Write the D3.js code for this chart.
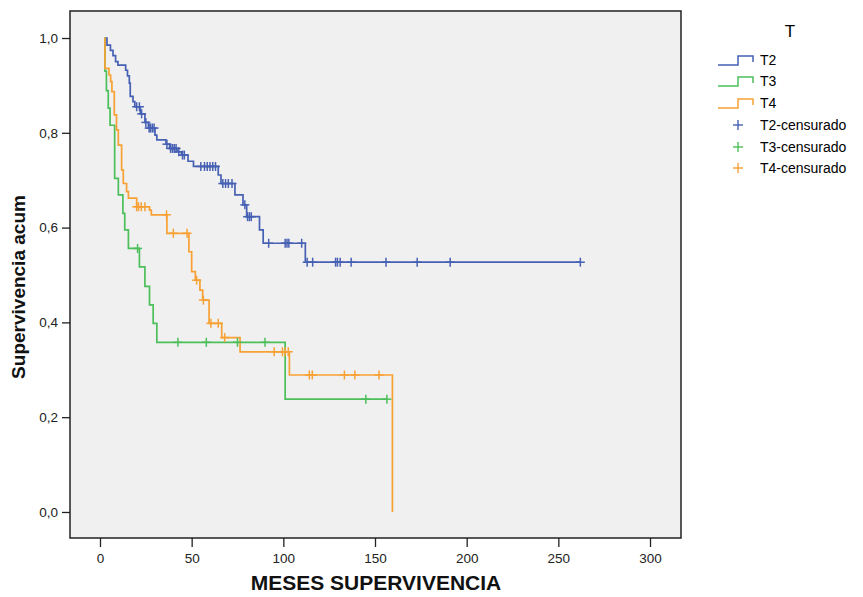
<!DOCTYPE html>
<html>
<head>
<meta charset="utf-8">
<script src="https://cdn.jsdelivr.net/npm/d3@7"></script>
<style>
  body { margin: 0; background: #fff; }
  #chart { width: 863px; height: 597px; }
  text { font-family: "Liberation Sans", Arial, sans-serif; }
  .axis text { font-size: 13.5px; fill: #222; }
  .axis line { stroke: #222; }
  .axisLabel { font-weight: bold; fill: #111; }
</style>
</head>
<body>
<div id="chart"></div>
<script>
// ---- data ----
const groups = ["T2", "T3", "T4"];
const colors = ["#4660b4", "#4cbf5a", "#f7a134"];
const startTime = 2.5;

// T2: event times and the survival value just after each step
const t2Times = [3.8, 5.7, 7.1, 8.5, 9.8, 14, 15, 16, 16.5, 18, 19, 22, 24.5, 26.4, 30, 31, 36, 38, 42, 44.5, 48, 51, 64.5, 66, 73.6, 78, 80, 87, 89, 112];
const t2Surv  = [0.985, 0.974, 0.963, 0.95, 0.943, 0.932, 0.92, 0.905, 0.877, 0.866, 0.855, 0.84, 0.822, 0.81, 0.795, 0.785, 0.776, 0.767, 0.76, 0.753, 0.74, 0.729, 0.711, 0.693, 0.669, 0.648, 0.623, 0.595, 0.567, 0.527];
const t2Censor = [20, 21.5, 22.7, 25, 26.8, 27.5, 28.5, 29.5, 36.5, 38.5, 39.5, 40.5, 41.5, 43, 45, 46, 55, 57, 58.5, 60, 61.5, 63, 67, 68.5, 70, 72, 79, 80.5, 81.5, 82.5, 92, 101, 102, 103, 110, 113, 116, 128.5, 129.5, 131, 137, 156, 173, 191, 262];
const t2End = 262;

// T3
const t3Times = [2.7, 3.5, 4.5, 5.5, 8, 10, 12.5, 13.5, 15.5, 21.5, 24.5, 27, 29, 31, 101];
const t3Surv  = [0.93, 0.889, 0.852, 0.816, 0.704, 0.669, 0.63, 0.595, 0.556, 0.517, 0.476, 0.437, 0.398, 0.358, 0.238];
const t3Censor = [20.5, 42.5, 58, 75, 90, 145, 156.5];
const t3End = 156.5;

// T4
const t4Times = [2.7, 4.9, 5.8, 6.5, 7.8, 9, 10, 11.8, 12.7, 14.5, 15.5, 20, 27, 28, 36.5, 48.5, 50, 52, 54.5, 56, 59.5, 66.4, 76.4, 103.3, 159.5];
const t4Surv  = [0.936, 0.922, 0.908, 0.887, 0.838, 0.806, 0.774, 0.722, 0.693, 0.676, 0.662, 0.644, 0.637, 0.627, 0.588, 0.549, 0.507, 0.489, 0.468, 0.447, 0.398, 0.368, 0.338, 0.289, 0];
const t4Censor = [20, 21, 22.5, 24.5, 36.3, 40, 47.5, 52.7, 56.4, 60.5, 64.5, 68, 95, 99.5, 101, 102.7, 114.2, 115.8, 133.3, 139, 152.2];
const t4End = 159.5;

const xTicks = [0, 50, 100, 150, 200, 250, 300];
const yTicks = [0, 0.2, 0.4, 0.6, 0.8, 1.0];
const legendLabels = ["T2", "T3", "T4", "T2-censurado", "T3-censurado", "T4-censurado"];

const series = [
  {times: t2Times, surv: t2Surv, censor: t2Censor, end: t2End},
  {times: t3Times, surv: t3Surv, censor: t3Censor, end: t3End},
  {times: t4Times, surv: t4Surv, censor: t4Censor, end: t4End}
];

// 1. SVG
const width = 863, height = 597;
const svg = d3.select("#chart").append("svg")
  .attr("width", width)
  .attr("height", height);

// 2. SCALES (plot frame 70..681 x 11..538)
const frame = {left: 70, right: 681, top: 11, bottom: 538};
const xScale = d3.scaleLinear().domain([-16.36, 316.9]).range([frame.left, frame.right]);
const yScale = d3.scaleLinear().domain([-0.0549, 1.057]).range([frame.bottom, frame.top]);

// plot background
svg.append("rect")
  .attr("x", frame.left).attr("y", frame.top)
  .attr("width", frame.right - frame.left).attr("height", frame.bottom - frame.top)
  .attr("fill", "#f0f0f0");

// 3. AXES
const comma = d3.formatLocale({decimal: ",", thousands: ".", grouping: [3], currency: ["", "€"]}).format(".1f");

svg.append("g")
  .attr("class", "axis")
  .attr("transform", `translate(0,${frame.bottom})`)
  .call(d3.axisBottom(xScale).tickValues(xTicks).tickSize(9).tickPadding(6))
  .call(g => g.select(".domain").remove());

svg.append("g")
  .attr("class", "axis")
  .attr("transform", `translate(${frame.left},0)`)
  .call(d3.axisLeft(yScale).tickValues(yTicks).tickFormat(comma).tickSize(8).tickPadding(4))
  .call(g => g.select(".domain").remove());

svg.selectAll(".axis line").attr("stroke-width", 1.3);

// 4. CURVES
function survAt(s, t) {
  let v = 1;
  s.times.forEach((tt, i) => { if (tt <= t) v = s.surv[i]; });
  return v;
}

const line = d3.line()
  .x(d => xScale(d[0]))
  .y(d => yScale(d[1]))
  .curve(d3.curveStepAfter);

series.forEach((s, i) => {
  const pts = [[startTime, 1]];
  s.times.forEach((t, j) => pts.push([t, s.surv[j]]));
  if (s.end > s.times[s.times.length - 1]) pts.push([s.end, s.surv[s.surv.length - 1]]);

  svg.append("path")
    .datum(pts)
    .attr("d", line)
    .attr("fill", "none")
    .attr("stroke", colors[i])
    .attr("stroke-width", 1.7);
});

// censor marks
const arm = 4.5;
series.forEach((s, i) => {
  const g = svg.append("g").attr("stroke", colors[i]).attr("stroke-width", 1.5);
  s.censor.forEach(c => {
    const cx = xScale(c), cy = yScale(survAt(s, c));
    g.append("line").attr("x1", cx - arm).attr("x2", cx + arm).attr("y1", cy).attr("y2", cy);
    g.append("line").attr("x1", cx).attr("x2", cx).attr("y1", cy - arm).attr("y2", cy + arm);
  });
});

// frame on top
svg.append("rect")
  .attr("x", frame.left).attr("y", frame.top)
  .attr("width", frame.right - frame.left).attr("height", frame.bottom - frame.top)
  .attr("fill", "none")
  .attr("stroke", "#222")
  .attr("stroke-width", 1.5);

// 5. LABELS
svg.append("text")
  .attr("class", "axisLabel")
  .attr("x", 376).attr("y", 590)
  .attr("text-anchor", "middle")
  .style("font-size", "21px")
  .text("MESES SUPERVIVENCIA");

svg.append("text")
  .attr("class", "axisLabel")
  .attr("transform", "rotate(-90)")
  .attr("x", -287).attr("y", 25)
  .attr("text-anchor", "middle")
  .style("font-size", "19px")
  .text("Supervivencia acum");

// 6. LEGEND
const legend = svg.append("g");
legend.append("text")
  .attr("x", 790).attr("y", 37)
  .attr("text-anchor", "middle")
  .style("font-size", "17px")
  .text("T");

const rowY = [60, 81, 103, 125, 147, 168];
legendLabels.forEach((lab, i) => {
  const y = rowY[i];
  const col = colors[i % 3];
  if (i < 3) {
    legend.append("path")
      .attr("d", `M718,${y + 5}H738V${y - 4}H753V${y + 2}`)
      .attr("fill", "none")
      .attr("stroke", col)
      .attr("stroke-width", 1.5);
  } else {
    legend.append("line").attr("x1", 733).attr("x2", 743).attr("y1", y).attr("y2", y)
      .attr("stroke", col).attr("stroke-width", 1.4);
    legend.append("line").attr("x1", 738).attr("x2", 738).attr("y1", y - 5).attr("y2", y + 5)
      .attr("stroke", col).attr("stroke-width", 1.4);
  }
  legend.append("text")
    .attr("x", 760).attr("y", y + 5)
    .style("font-size", "14px")
    .text(lab);
});
</script>
</body>
</html>
